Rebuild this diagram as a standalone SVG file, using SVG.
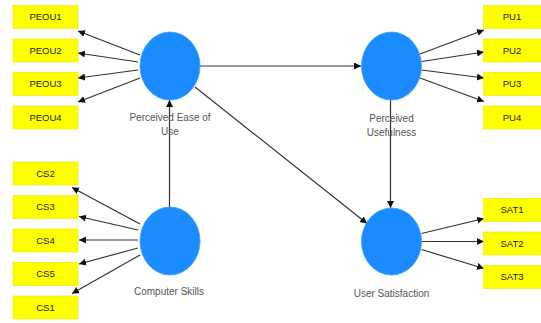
<svg xmlns="http://www.w3.org/2000/svg" width="541" height="323" viewBox="0 0 541 323">
<defs>
<marker id="ah" markerUnits="userSpaceOnUse" markerWidth="8" markerHeight="8" refX="7" refY="3.5" orient="auto">
<path d="M0,0 L7,3.5 L0,7 z" fill="#111"/>
</marker>
<style>
.box{fill:#ffff00;stroke:#e6e600;stroke-width:0.6}
.bt{font-family:"Liberation Sans",Arial,sans-serif;font-size:9.5px;fill:#222;text-anchor:middle}
.lv{fill:#1a8cff;stroke:#3aa0ff;stroke-width:0.8}
.lt{font-family:"Liberation Sans",Arial,sans-serif;font-size:10px;fill:#555;text-anchor:middle}
.c{stroke:#333;stroke-width:1.2;fill:none;marker-end:url(#ah)}
</style>
</defs>
<rect width="541" height="323" fill="#fff"/>
<g id="connectors">
<line class="c" x1="140" y1="55" x2="78" y2="31"/>
<line class="c" x1="138" y1="62" x2="78" y2="53"/>
<line class="c" x1="138" y1="70" x2="78" y2="78"/>
<line class="c" x1="140" y1="78" x2="78" y2="102"/>
<line class="c" x1="140" y1="224" x2="72" y2="187.5"/>
<line class="c" x1="138" y1="230" x2="79" y2="216.5"/>
<line class="c" x1="138" y1="240" x2="79" y2="240"/>
<line class="c" x1="138" y1="248" x2="79" y2="264"/>
<line class="c" x1="140" y1="255" x2="72" y2="293.5"/>
<line class="c" x1="420" y1="54" x2="484" y2="30"/>
<line class="c" x1="421.5" y1="61.5" x2="484" y2="52"/>
<line class="c" x1="421.5" y1="70" x2="484" y2="78"/>
<line class="c" x1="420" y1="78" x2="484" y2="101.5"/>
<line class="c" x1="421.5" y1="233.5" x2="484" y2="218.5"/>
<line class="c" x1="421.5" y1="241.5" x2="484" y2="241.5"/>
<line class="c" x1="421.5" y1="249.5" x2="484" y2="268.5"/>
<line class="c" x1="200" y1="66" x2="361" y2="66"/>
<line class="c" x1="195" y1="87" x2="367" y2="223.5"/>
<line class="c" x1="169.5" y1="207" x2="169.5" y2="100"/>
<line class="c" x1="390.5" y1="100" x2="390.5" y2="208"/>
</g>
<g id="PEOU">
<ellipse class="lv" cx="170" cy="66" rx="30" ry="34"/>
<text class="lt" x="170" y="121">Perceived Ease of</text>
<text class="lt" x="170" y="134.5">Use</text>
</g>
<g id="PU">
<ellipse class="lv" cx="391.5" cy="66" rx="30" ry="34"/>
<text class="lt" x="391.5" y="121.5">Perceived</text>
<text class="lt" x="391.5" y="135.5">Usefulness</text>
</g>
<g id="CS">
<ellipse class="lv" cx="170" cy="241" rx="30" ry="34"/>
<text class="lt" x="169" y="295">Computer Skills</text>
</g>
<g id="US">
<ellipse class="lv" cx="391.5" cy="241.5" rx="30" ry="33.5"/>
<text class="lt" x="391.5" y="297">User Satisfaction</text>
</g>
<g id="PEOU1"><rect class="box" x="13" y="5.5" width="65" height="23"/><text class="bt" x="45.5" y="20.3">PEOU1</text></g>
<g id="PEOU2"><rect class="box" x="13" y="39" width="65" height="23"/><text class="bt" x="45.5" y="53.8">PEOU2</text></g>
<g id="PEOU3"><rect class="box" x="13" y="72.5" width="65" height="23"/><text class="bt" x="45.5" y="87.3">PEOU3</text></g>
<g id="PEOU4"><rect class="box" x="13" y="106" width="65" height="23"/><text class="bt" x="45.5" y="120.8">PEOU4</text></g>
<g id="CS2"><rect class="box" x="13" y="162" width="65" height="23"/><text class="bt" x="45.5" y="176.8">CS2</text></g>
<g id="CS3"><rect class="box" x="13" y="195.5" width="65" height="23"/><text class="bt" x="45.5" y="210.3">CS3</text></g>
<g id="CS4"><rect class="box" x="13" y="229" width="65" height="23"/><text class="bt" x="45.5" y="243.8">CS4</text></g>
<g id="CS5"><rect class="box" x="13" y="262.5" width="65" height="23"/><text class="bt" x="45.5" y="277.3">CS5</text></g>
<g id="CS1"><rect class="box" x="13" y="296" width="65" height="23"/><text class="bt" x="45.5" y="310.8">CS1</text></g>
<g id="PU1"><rect class="box" x="483.5" y="5.5" width="58" height="23"/><text class="bt" x="512" y="20.3">PU1</text></g>
<g id="PU2"><rect class="box" x="483.5" y="39" width="58" height="23"/><text class="bt" x="512" y="53.8">PU2</text></g>
<g id="PU3"><rect class="box" x="483.5" y="72.5" width="58" height="23"/><text class="bt" x="512" y="87.3">PU3</text></g>
<g id="PU4"><rect class="box" x="483.5" y="106" width="58" height="23"/><text class="bt" x="512" y="120.8">PU4</text></g>
<g id="SAT1"><rect class="box" x="483.5" y="198.5" width="58" height="23"/><text class="bt" x="512" y="213.3">SAT1</text></g>
<g id="SAT2"><rect class="box" x="483.5" y="232" width="58" height="23"/><text class="bt" x="512" y="246.8">SAT2</text></g>
<g id="SAT3"><rect class="box" x="483.5" y="265.5" width="58" height="23"/><text class="bt" x="512" y="280.3">SAT3</text></g>
</svg>
